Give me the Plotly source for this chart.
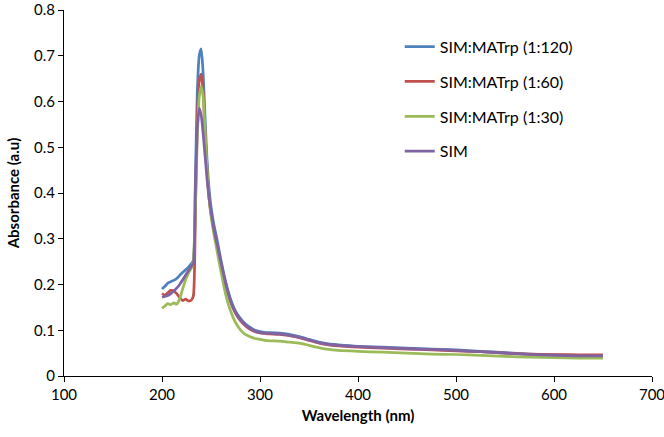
import plotly.graph_objects as go

wavelength = [200, 203, 206, 209, 212, 215, 218, 221, 224, 227, 230, 232, 234, 236, 238, 240,
              242, 244, 246, 248, 250, 253, 256, 260, 265, 270, 275, 280, 285, 290, 295, 300,
              305, 310, 320, 330, 340, 350, 360, 370, 380, 400, 425, 450, 475, 500, 525, 550,
              575, 600, 625, 650]

abs_120 = [0.190, 0.196, 0.203, 0.206, 0.209, 0.213, 0.220, 0.226, 0.232, 0.238, 0.246, 0.252,
           0.42, 0.62, 0.70, 0.715, 0.66, 0.56, 0.47, 0.41, 0.37, 0.33, 0.300, 0.255, 0.205,
           0.168, 0.142, 0.126, 0.114, 0.106, 0.100, 0.097, 0.095, 0.095, 0.094, 0.091, 0.086,
           0.080, 0.074, 0.070, 0.068, 0.065, 0.063, 0.061, 0.059, 0.057, 0.054, 0.051, 0.048,
           0.046, 0.045, 0.045]

abs_60 = [0.180, 0.177, 0.182, 0.187, 0.186, 0.180, 0.172, 0.165, 0.168, 0.164, 0.166, 0.175,
          0.35, 0.56, 0.645, 0.660, 0.62, 0.53, 0.45, 0.39, 0.355, 0.32, 0.290, 0.247, 0.200,
          0.162, 0.137, 0.121, 0.110, 0.102, 0.097, 0.094, 0.093, 0.092, 0.091, 0.088, 0.084,
          0.078, 0.072, 0.068, 0.066, 0.063, 0.061, 0.059, 0.057, 0.055, 0.053, 0.050, 0.048,
          0.047, 0.046, 0.046]

abs_30 = [0.148, 0.153, 0.158, 0.156, 0.160, 0.157, 0.168, 0.190, 0.210, 0.225, 0.236, 0.255,
          0.36, 0.52, 0.61, 0.633, 0.61, 0.53, 0.45, 0.39, 0.35, 0.31, 0.275, 0.230, 0.178,
          0.142, 0.117, 0.101, 0.091, 0.086, 0.082, 0.080, 0.078, 0.077, 0.076, 0.074, 0.072,
          0.067, 0.062, 0.058, 0.056, 0.054, 0.052, 0.050, 0.048, 0.047, 0.045, 0.043, 0.041,
          0.040, 0.039, 0.039]

abs_sim = [0.172, 0.174, 0.176, 0.180, 0.186, 0.192, 0.200, 0.210, 0.220, 0.230, 0.240, 0.246,
           0.40, 0.54, 0.585, 0.570, 0.53, 0.48, 0.43, 0.39, 0.36, 0.32, 0.290, 0.250, 0.202,
           0.164, 0.139, 0.123, 0.112, 0.104, 0.098, 0.095, 0.094, 0.093, 0.092, 0.089, 0.085,
           0.079, 0.073, 0.069, 0.067, 0.064, 0.062, 0.060, 0.058, 0.056, 0.053, 0.050, 0.047,
           0.045, 0.044, 0.044]

x_ticks = [100, 200, 300, 400, 500, 600, 700]
y_ticks = [0, 0.1, 0.2, 0.3, 0.4, 0.5, 0.6, 0.7, 0.8]
y_tick_labels = ["0", "0.1", "0.2", "0.3", "0.4", "0.5", "0.6", "0.7", "0.8"]

names = ["SIM:MATrp (1:120)", "SIM:MATrp (1:60)", "SIM:MATrp (1:30)", "SIM"]
colors = ["#4F81BD", "#C0504D", "#9BBB59", "#8064A2"]
series = [abs_120, abs_60, abs_30, abs_sim]

fig = go.Figure()
for i, (nm, col, ys) in enumerate(zip(names, colors, series)):
    fig.add_trace(go.Scatter(
        x=wavelength, y=ys, mode="lines", name=nm, legendgroup=f"g{i}",
        line=dict(color=col, width=2.75, shape="spline", smoothing=0.6),
    ))

font = "Lato, Carlito, 'Open Sans', sans-serif"
fig.update_layout(
    width=664, height=437,
    margin=dict(l=64, r=12, t=10, b=61, autoexpand=False),
    paper_bgcolor="white", plot_bgcolor="white",
    font=dict(family=font, size=14, color="#000000"),
    showlegend=True,
    legend=dict(
        x=0.571, y=0.946, xanchor="left", yanchor="top",
        traceorder="grouped", tracegroupgap=11,
        font=dict(family=font, size=16, color="#000000"),
        itemwidth=30, bgcolor="rgba(0,0,0,0)",
    ),
    xaxis=dict(
        range=[100, 700], tickvals=x_ticks, ticktext=[str(v) for v in x_ticks],
        showgrid=False, zeroline=False, automargin=False,
        showline=True, linecolor="#000000", linewidth=1,
        ticks="outside", ticklen=5, tickcolor="#000000",
        ticklabeloverflow="allow",
        tickfont=dict(family=font, size=15, color="#000000"),
        title=dict(text="<b>Wavelength (nm)</b>", font=dict(family=font, size=15), standoff=8),
    ),
    yaxis=dict(
        range=[0, 0.8], tickvals=y_ticks, ticktext=y_tick_labels,
        showgrid=False, zeroline=False, automargin=False,
        showline=True, linecolor="#000000", linewidth=1,
        ticks="outside", ticklen=5, tickcolor="#000000",
        ticklabeloverflow="allow",
        tickfont=dict(family=font, size=15, color="#000000"),
        title=dict(text="<b>Absorbance (a.u)</b>", font=dict(family=font, size=15), standoff=10),
    ),
)

fig.write_html("out.html")
